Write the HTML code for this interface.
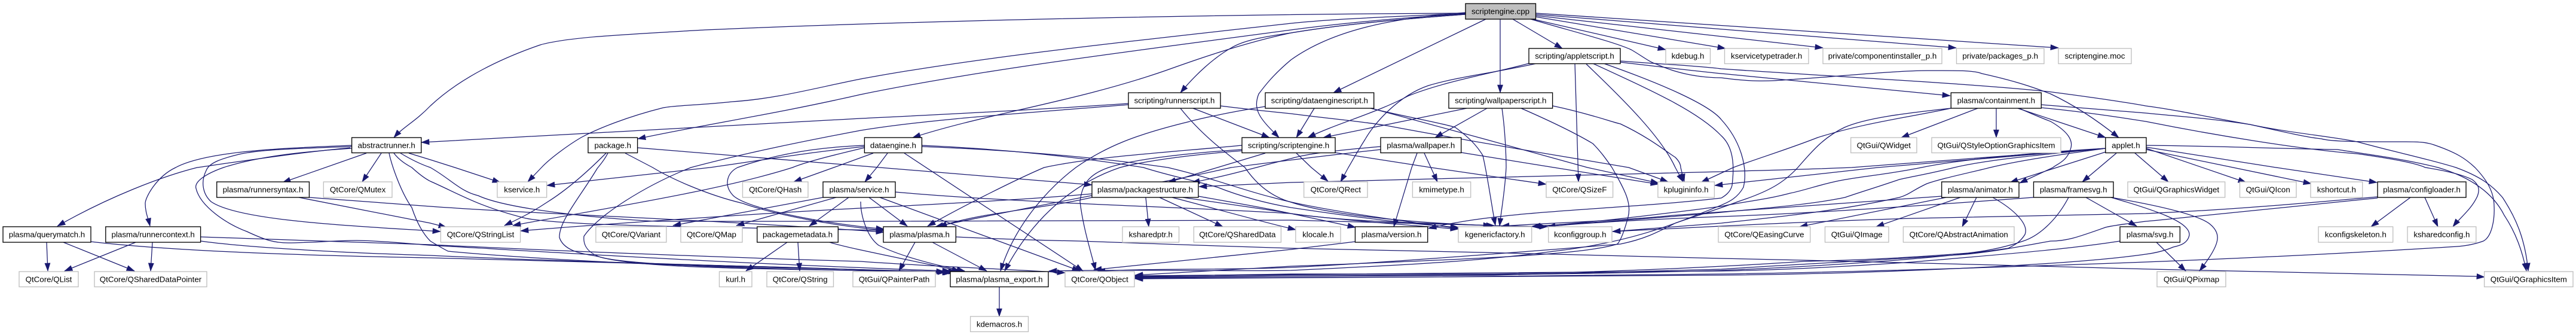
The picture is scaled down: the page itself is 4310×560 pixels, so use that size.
<!DOCTYPE html>
<html>
<head>
<meta charset="utf-8">
<title>scriptengine.cpp</title>
<style>
html,body{margin:0;padding:0;background:#fff}
svg{display:block}
text{font-family:"Liberation Sans",sans-serif;font-size:13.33px;fill:#000;text-anchor:middle}
.b{fill:#fff;stroke:#000;stroke-width:1.33}
.g{fill:#fff;stroke:#bfbfbf;stroke-width:1.33}
</style>
</head>
<body>
<svg xmlns="http://www.w3.org/2000/svg" width="4310" height="560" viewBox="0 0 4310 560">
<defs>
<marker id="a" markerUnits="userSpaceOnUse" markerWidth="14" markerHeight="10" viewBox="0 0 14 10" refX="13.5" refY="5" orient="auto">
<path d="M0.5 0.5L13.5 5L0.5 9.5Z" fill="#191970" stroke="#191970" stroke-width="0.6"/>
</marker>
</defs>
<rect width="4310" height="560" fill="#fff"/>
<g fill="none" stroke="#191970" stroke-width="1.25" marker-end="url(#a)">
<!-- scriptengine.cpp -->
<path d="M2452 22C2000 24 1500 36 1179 50C1040 58 950 62 904 75C840 97 770 130 720 177C695 203 675 212 659 230"/>
<path d="M2452 22C2340 28 2250 30 2160 39C1900 68 1640 95 1440 132C1360 148 1300 165 1225 170C1170 176 1130 176 1110 180C1050 195 1000 215 972 230C950 243 920 265 906 280L883 304"/>
<path d="M2452 23C2340 30 2250 38 2160 50C1900 85 1650 115 1440 158C1300 190 1180 208 1067 232"/>
<path d="M2452 24C2300 35 2220 45 2160 55C2080 72 2000 100 1950 118C1800 170 1650 190 1527 230"/>
<path d="M2452 24C2300 35 2220 45 2160 55C2110 62 2080 68 2060 80C2030 97 2000 125 1975 155"/>
<path d="M2452 21C2330 30 2230 50 2160 100C2130 125 2115 145 2106 157C2095 185 2110 200 2140 230"/>
<path d="M2486 32L2231 155"/>
<path d="M2510 32L2510 155"/>
<path d="M2531 32L2614 81"/>
<path d="M2560 31L2787 83"/>
<path d="M2569 28L2887 81"/>
<path d="M2569 26L3050 80"/>
<path d="M2569 24L3273 80"/>
<path d="M2569 22L3444 80"/>
<path d="M2561 32C2640 55 2700 70 2729 83C2745 92 2760 104 2771 107C2810 125 2850 130 2880 130C2930 137 2960 136 2995 133C3050 130 3170 118 3224 118C3270 118 3300 117 3316 123C3370 135 3400 145 3431 157C3480 180 3520 210 3545 230"/>
<!-- appletscript -->
<path d="M2711 104C2780 112 2830 118 2880 123L3263 160"/>
<path d="M2711 102C2790 108 2840 110 2880 115C3100 130 3300 140 3426 153C3480 160 3540 168 3590 177C3650 185 3700 197 3764 208C3830 222 3900 228 3944 237C4010 255 4060 265 4109 280C4150 295 4170 310 4187 330C4210 365 4225 400 4230 453"/>
<path d="M2558 106C2500 122 2420 135 2357 160C2300 190 2240 205 2188 230"/>
<path d="M2571 106C2500 122 2440 128 2390 143C2340 160 2300 205 2284 233C2270 255 2262 270 2256 280L2243 304"/>
<path d="M2635 106L2641 304"/>
<path d="M2654 107C2720 170 2780 230 2803 280L2816 304"/>
<path d="M2665 106C2760 150 2840 185 2880 227C2905 250 2900 290 2898 310C2895 322 2885 328 2880 331C2760 345 2620 350 2527 360C2470 366 2430 372 2390 382"/>
<path d="M2683 106C2780 140 2860 175 2880 200C2912 235 2925 280 2917 313C2905 335 2885 340 2880 343C2800 375 2730 405 2600 420C2450 440 2300 445 2160 452C2050 454 1900 450 1755 453"/>
<!-- containment -->
<path d="M3309 181L3181 230"/>
<path d="M3340 181L3340 230"/>
<path d="M3376 181L3523 230"/>
<path d="M3376 180C3410 195 3431 203 3431 203C3460 220 3470 235 3464 250C3458 270 3440 275 3435 280L3379 306"/>
<path d="M3264 181C3200 195 3120 205 3041 230C2990 250 2940 265 2900 280L2846 305"/>
<path d="M3264 181C3180 190 3120 198 3086 213C3050 230 3030 255 3008 280C2985 305 2960 320 2908 337C2860 355 2840 360 2803 373C2770 390 2750 400 2711 408C2500 425 2300 440 2160 447C2050 452 1900 448 1836 454"/>
<path d="M3415 175C3480 180 3540 185 3590 189C3650 195 3700 198 3764 208C3810 218 3860 230 3884 232C3900 237 3950 237 4026 237C4050 237 4060 238 4072 242C4110 255 4125 265 4141 280C4160 300 4173 320 4173 345C4174 365 4170 395 4155 403C4130 412 4110 412 4095 413C3900 425 3750 432 3590 438C3400 445 3100 455 2880 458C2650 462 2400 463 2160 464L1899 465"/>
<path d="M3415 180C3480 186 3540 195 3590 203C3700 225 3850 250 3944 257C4000 265 4040 272 4058 280C4090 285 4120 292 4136 300C4150 310 4148 320 4145 328C4135 350 4115 365 4104 379"/>
<!-- applet -->
<path d="M3571 255L3628 304"/>
<path d="M3591 248L3758 305"/>
<path d="M3591 250L3867 307"/>
<path d="M3591 246L3808 280L3977 305"/>
<path d="M3591 243C3700 244 3800 248 3911 250C3960 258 4020 265 4079 280C4130 295 4170 320 4190 360C4210 390 4220 420 4227 453"/>
<path d="M3541 256L3484 304"/>
<path d="M3523 254L3363 305"/>
<path d="M3523 248L3098 280C3000 284 2900 286 2880 287L2160 305L2006 312"/>
<path d="M3523 248L3142 280L2869 310"/>
<path d="M3523 248C3400 255 3270 268 3215 280C3150 293 3110 295 3073 303C3040 310 3020 318 2995 323C2950 335 2910 338 2880 345C2800 355 2690 370 2564 379"/>
<path d="M3523 248C3400 260 3320 268 3270 280C3230 290 3200 295 3178 300C3140 313 3110 322 3087 330C3030 342 2950 348 2880 355C2800 362 2680 372 2564 378"/>
<path d="M3523 248C3450 258 3380 268 3330 280C3290 290 3250 298 3224 307C3200 318 3195 325 3178 330C3080 352 2980 362 2880 373L2698 387"/>
<!-- configloader -->
<path d="M4033 330L3967 379"/>
<path d="M4057 330L4079 379"/>
<path d="M3978 329C3800 345 3700 352 3590 357L3201 365C3100 368 3000 372 2880 378L2698 387"/>
<path d="M3978 331C3850 345 3720 358 3590 370C3550 375 3530 378 3523 380C3480 395 3460 403 3431 403C3380 412 3340 420 3290 425C3150 435 3000 442 2880 450L2500 460L2160 462L1899 464"/>
<!-- animator -->
<path d="M3280 330L3139 379"/>
<path d="M3307 330L3283 379"/>
<path d="M3256 330L3011 379"/>
<path d="M3334 330C3370 350 3395 375 3388 392C3380 405 3370 410 3360 415C3250 432 3050 445 2880 452C2600 460 2400 460 2160 460L1899 463"/>
<path d="M3249 328C3100 340 2950 350 2800 360C2700 370 2600 372 2512 378"/>
<!-- framesvg -->
<path d="M3490 330L3575 378"/>
<path d="M3461 330C3440 370 3410 395 3385 403C3350 415 3320 420 3293 423C3180 432 3100 435 3018 437C2900 445 2700 455 2500 458L2160 458L1899 462"/>
<path d="M3532 330C3600 350 3665 370 3663 393C3660 408 3645 411 3636 413C3620 420 3605 423 3590 425C3450 445 3100 458 2880 460C2500 465 2160 466 1899 466"/>
<path d="M3532 330C3620 345 3680 360 3698 375C3710 385 3712 395 3709 405C3705 420 3690 440 3680 453"/>
<path d="M3402 330C3200 345 3000 358 2880 362C2800 365 2650 372 2589 379"/>
<!-- svg -->
<path d="M3608 405L3657 453"/>
<path d="M3547 403C3450 418 3350 425 3200 438C3000 452 2880 453 2880 453C2500 458 2160 458 1899 461"/>
<!-- plasma.h -->
<path d="M1599 396C1680 400 1750 402 1807 403C1900 406 2050 412 2160 415L2481 422L2880 432C2930 433 2980 434 3018 435L3339 443L3600 450L4143 462L4157 463"/>
<path d="M1531 405L1504 453"/>
<path d="M1560 405L1651 453"/>
<!-- packagemetadata -->
<path d="M1317 405L1248 453"/>
<path d="M1335 405L1338 453"/>
<path d="M1388 405C1420 415 1500 430 1606 453"/>
<!-- plasma_export -->
<path d="M1672 479L1672 529"/>
<!-- packagestructure -->
<path d="M1917 330L1922 379"/>
<path d="M1940 330L2046 379"/>
<path d="M1961 330C2020 345 2100 368 2168 384"/>
<path d="M1979 330C2080 345 2120 350 2160 357C2240 368 2380 378 2440 383"/>
<path d="M2005 328C2060 338 2120 348 2160 357L2268 380"/>
<path d="M1827 324C1700 335 1550 342 1440 348C1300 355 1000 375 871 386"/>
<path d="M1827 330C1740 350 1640 355 1571 379"/>
<!-- abstractrunner -->
<path d="M586 247C500 255 400 270 330 280C270 295 180 330 96 378"/>
<path d="M588 243C500 247 350 250 294 280C262 295 243 330 243 340C243 355 248 365 251 378"/>
<path d="M588 245C500 248 440 250 404 257C370 265 350 272 345 285C335 305 340 325 353 337C400 370 600 378 737 387"/>
<path d="M588 248C500 254 430 262 374 280C340 292 325 305 328 315C335 345 380 375 413 387C445 402 460 406 482 406C520 406 560 402 597 402C650 403 690 408 720 410C900 420 1200 440 1590 453"/>
<path d="M613 256L473 305"/>
<path d="M638 256L606 304"/>
<path d="M651 256C655 275 670 320 689 347C700 380 712 395 720 403C735 412 745 418 750 420C800 425 1000 440 1200 445L1580 454"/>
<path d="M659 256C668 268 680 275 689 280C700 290 710 298 720 303C770 325 800 345 880 365C950 378 1200 380 1479 385"/>
<path d="M670 256C690 268 705 275 720 280C755 300 770 320 800 327C850 350 1000 365 1100 370L1440 370L2160 368L2500 377"/>
<path d="M684 256L720 267L761 280L837 305"/>
<!-- runnerscript -->
<path d="M1888 173C1700 186 1500 195 1440 198L705 238"/>
<path d="M1888 175C1700 190 1550 200 1440 218C1350 235 1250 255 1156 280C1080 310 1000 360 977 395C975 415 990 425 1005 430C1080 450 1300 450 1600 454"/>
<path d="M1996 181L2124 230"/>
<path d="M1975 181C2010 225 2050 255 2083 280C2100 305 2125 328 2160 338C2220 358 2350 372 2490 377L2589 379"/>
<path d="M2042 177C2090 183 2130 187 2160 190C2220 198 2280 203 2320 210C2480 240 2620 262 2725 280L2791 304"/>
<!-- dataengine -->
<path d="M1446 243C1400 245 1320 250 1234 280C1215 290 1212 310 1225 325C1240 345 1350 370 1479 383"/>
<path d="M1446 245C1350 255 1260 270 1188 280L915 310"/>
<path d="M1446 247C1400 258 1350 270 1326 280C1200 320 1000 350 858 377"/>
<path d="M1461 256L1395 280L1328 304"/>
<path d="M1485 256L1467 280L1447 304"/>
<path d="M1513 256L1812 453"/>
<path d="M1542 243C1700 250 1820 265 1913 280C1960 295 2000 302 2037 313C2080 330 2120 340 2160 347C2260 362 2360 375 2440 380"/>
<path d="M1542 245C1720 252 1850 265 1954 280C2030 298 2080 318 2129 330C2200 350 2350 370 2440 382"/>
<!-- package -->
<path d="M1067 247L1827 309"/>
<path d="M1014 256C1000 270 960 310 917 337C890 355 870 365 844 377"/>
<path d="M1017 256C1010 270 1000 280 999 282C970 330 935 370 936 397C945 425 990 425 1005 430C1060 445 1300 450 1582 455"/>
<path d="M1046 256L1092 280C1120 297 1180 325 1243 340C1300 360 1400 378 1479 385"/>
<!-- service -->
<path d="M1377 330L1126 377"/>
<path d="M1399 330L1232 377"/>
<path d="M1420 330L1354 378"/>
<path d="M1454 330L1518 378"/>
<path d="M1472 330L1807 453"/>
<path d="M1440 337C1440 360 1450 395 1470 410C1500 425 1550 440 1614 453"/>
<path d="M1498 321C1600 330 1700 335 1761 338C1900 345 2050 350 2160 357C2250 370 2350 372 2495 377"/>
<!-- dataenginescript -->
<path d="M2117 178C2040 190 1990 203 1991 203C1900 225 1850 245 1800 280C1760 310 1700 370 1674 453"/>
<path d="M2199 181L2169 230"/>
<path d="M2293 181C2350 195 2410 205 2435 213C2465 235 2475 250 2481 260C2490 300 2495 340 2502 377"/>
<path d="M2298 182C2400 210 2550 250 2656 280L2775 306"/>
<!-- scriptengine.h -->
<path d="M2078 243C1950 255 1830 262 1747 280C1700 300 1610 345 1552 378"/>
<path d="M2078 250C2000 255 1900 265 1855 280C1820 292 1810 310 1807 337C1812 380 1825 420 1833 452"/>
<path d="M2078 252C2000 258 1920 268 1874 280C1800 305 1730 360 1681 453"/>
<path d="M2117 256L2037 280L1954 305"/>
<path d="M2169 256L2194 280L2222 303"/>
<path d="M2233 255L2394 280L2587 308"/>
<!-- wallpaperscript -->
<path d="M2454 181L2214 230"/>
<path d="M2488 181L2401 230"/>
<path d="M2513 181C2520 230 2520 280 2520 280C2518 320 2512 350 2509 378"/>
<path d="M2545 181C2600 205 2640 225 2665 240C2680 255 2690 270 2697 280C2720 320 2730 340 2724 363C2718 385 2712 402 2706 408C2650 425 2500 432 2160 445L1899 460"/>
<path d="M2598 177C2660 190 2700 205 2711 207C2760 230 2790 255 2803 263C2810 270 2812 275 2812 280L2818 304"/>
<!-- wallpaper -->
<path d="M2383 256L2394 280L2405 304"/>
<path d="M2371 256L2362 280L2332 379"/>
<path d="M2445 255L2600 280L2775 308"/>
<path d="M2310 245C2250 250 2190 256 2160 265C2100 280 2050 295 1994 305"/>
<path d="M2310 250C2200 262 2100 275 2060 280C1950 305 1750 340 1565 379"/>
<!-- runnersyntax -->
<path d="M500 330L720 373L747 380"/>
<path d="M517 330L720 345C900 358 1150 365 1479 388"/>
<!-- querymatch -->
<path d="M78 405L80 453"/>
<path d="M106 405L225 453"/>
<path d="M152 404C250 415 400 425 720 431C1000 438 1300 445 1592 456"/>
<!-- runnercontext -->
<path d="M227 405L108 453"/>
<path d="M255 405L252 453"/>
<path d="M336 396C450 400 600 405 720 409C900 418 1200 430 1440 437C1550 445 1690 450 1782 456"/>
<path d="M336 403C400 412 550 422 720 427C1000 440 1300 445 1590 456"/>
<!-- version -->
<path d="M2267 404C2200 412 2160 417 2160 417L1830 451"/>
</g>
<g>
<rect class="b" style="fill:#bfbfbf" x="2452" y="6" width="117.5" height="26"/><text x="2510.5" y="23.5">scriptengine.cpp</text>

<rect class="b" x="2558" y="81" width="153" height="25.5"/><text x="2634.5" y="98">scripting/appletscript.h</text>
<rect class="g" x="2787" y="81" width="74.5" height="25.5"/><text x="2824" y="98">kdebug.h</text>
<rect class="g" x="2885.5" y="81" width="140.5" height="25.5"/><text x="2955.7" y="98">kservicetypetrader.h</text>
<rect class="g" x="3050" y="81" width="199" height="25.5"/><text x="3149.5" y="98">private/componentinstaller_p.h</text>
<rect class="g" x="3273.5" y="81" width="146.5" height="25.5"/><text x="3346.7" y="98">private/packages_p.h</text>
<rect class="g" x="3444" y="81" width="122" height="25.5"/><text x="3505" y="98">scriptengine.moc</text>

<rect class="b" x="1888" y="155" width="154" height="26"/><text x="1965" y="172.5">scripting/runnerscript.h</text>
<rect class="b" x="2117" y="155" width="181.7" height="26"/><text x="2207.8" y="172.5">scripting/dataenginescript.h</text>
<rect class="b" x="2424" y="155" width="173.6" height="26"/><text x="2510.8" y="172.5">scripting/wallpaperscript.h</text>
<rect class="b" x="3264.3" y="155" width="151" height="26"/><text x="3339.8" y="172.5">plasma/containment.h</text>

<rect class="b" x="588.6" y="230" width="116.2" height="25.5"/><text x="646.7" y="247.5">abstractrunner.h</text>
<rect class="b" x="984" y="230" width="82.6" height="25.5"/><text x="1025.3" y="247.5">package.h</text>
<rect class="b" x="1446.4" y="230" width="96" height="25.5"/><text x="1494.4" y="247.5">dataengine.h</text>
<rect class="b" x="2078" y="230" width="156" height="25.5"/><text x="2156" y="247.5">scripting/scriptengine.h</text>
<rect class="b" x="2310" y="230" width="134.7" height="25.5"/><text x="2377.3" y="247.5">plasma/wallpaper.h</text>
<rect class="g" x="3096.7" y="230" width="110.3" height="25.5"/><text x="3151.8" y="247.5">QtGui/QWidget</text>
<rect class="g" x="3232" y="230" width="216" height="25.5"/><text x="3340" y="247.5">QtGui/QStyleOptionGraphicsItem</text>
<rect class="b" x="3522.8" y="230" width="68.2" height="25.5"/><text x="3556.9" y="247.5">applet.h</text>

<rect class="b" x="362.7" y="304" width="154.7" height="26"/><text x="440" y="321.5">plasma/runnersyntax.h</text>
<rect class="g" x="541.3" y="304" width="114.7" height="26"/><text x="598.6" y="321.5">QtCore/QMutex</text>
<rect class="g" x="832" y="304" width="82.7" height="26"/><text x="873.3" y="321.5">kservice.h</text>
<rect class="g" x="1242.5" y="304" width="109.5" height="26"/><text x="1297.2" y="321.5">QtCore/QHash</text>
<rect class="b" x="1377" y="304" width="121" height="26"/><text x="1437.5" y="321.5">plasma/service.h</text>
<rect class="b" x="1827" y="304" width="178" height="26"/><text x="1916" y="321.5">plasma/packagestructure.h</text>
<rect class="g" x="2181.6" y="304" width="106.4" height="26"/><text x="2234.8" y="321.5">QtCore/QRect</text>
<rect class="g" x="2363.4" y="304" width="97.3" height="26"/><text x="2412" y="321.5">kmimetype.h</text>
<rect class="g" x="2587" y="304" width="111.6" height="26"/><text x="2642.8" y="321.5">QtCore/QSizeF</text>
<rect class="g" x="2773.9" y="304" width="94.5" height="26"/><text x="2821.1" y="321.5">kplugininfo.h</text>
<rect class="b" x="3248.7" y="304" width="129.3" height="26"/><text x="3313.3" y="321.5">plasma/animator.h</text>
<rect class="b" x="3402.5" y="304" width="133.5" height="26"/><text x="3469.2" y="321.5">plasma/framesvg.h</text>
<rect class="g" x="3560" y="304" width="162.7" height="26"/><text x="3641.3" y="321.5">QtGui/QGraphicsWidget</text>
<rect class="g" x="3747.5" y="304" width="94.5" height="26"/><text x="3794.7" y="321.5">QtGui/QIcon</text>
<rect class="g" x="3866" y="304" width="86.7" height="26"/><text x="3909.3" y="321.5">kshortcut.h</text>
<rect class="b" x="3978" y="304" width="148" height="26"/><text x="4052" y="321.5">plasma/configloader.h</text>

<rect class="b" x="5" y="379" width="147" height="26"/><text x="78.5" y="396.5">plasma/querymatch.h</text>
<rect class="b" x="176.8" y="379" width="158.8" height="26"/><text x="256.2" y="396.5">plasma/runnercontext.h</text>
<rect class="g" x="737.4" y="379" width="133.2" height="26"/><text x="804" y="396.5">QtCore/QStringList</text>
<rect class="g" x="996.9" y="379" width="118" height="26"/><text x="1055.9" y="396.5">QtCore/QVariant</text>
<rect class="g" x="1139" y="379" width="103" height="26"/><text x="1190.5" y="396.5">QtCore/QMap</text>
<rect class="b" x="1266.8" y="379" width="135.5" height="26"/><text x="1334.5" y="396.5">packagemetadata.h</text>
<rect class="b" x="1478" y="379" width="121.3" height="26"/><text x="1538.6" y="396.5">plasma/plasma.h</text>
<rect class="g" x="1878" y="379" width="94.6" height="26"/><text x="1925.3" y="396.5">ksharedptr.h</text>
<rect class="g" x="1997.4" y="379" width="146" height="26"/><text x="2070.4" y="396.5">QtCore/QSharedData</text>
<rect class="g" x="2167.8" y="379" width="75.2" height="26"/><text x="2205.4" y="396.5">klocale.h</text>
<rect class="b" x="2267.4" y="379" width="121.3" height="26"/><text x="2328" y="396.5">plasma/version.h</text>
<rect class="g" x="2440" y="379" width="122.7" height="26"/><text x="2501.3" y="396.5">kgenericfactory.h</text>
<rect class="g" x="2590.7" y="379" width="106.3" height="26"/><text x="2643.8" y="396.5">kconfiggroup.h</text>
<rect class="g" x="2875" y="379" width="153.8" height="26"/><text x="2951.9" y="396.5">QtCore/QEasingCurve</text>
<rect class="g" x="3053.5" y="379" width="106.5" height="26"/><text x="3106.7" y="396.5">QtGui/QImage</text>
<rect class="g" x="3184.4" y="379" width="185.6" height="26"/><text x="3277.2" y="396.5">QtCore/QAbstractAnimation</text>
<rect class="b" x="3547" y="379" width="100.4" height="26"/><text x="3597.2" y="396.5">plasma/svg.h</text>
<rect class="g" x="3879" y="379" width="124.7" height="26"/><text x="3941.3" y="396.5">kconfigskeleton.h</text>
<rect class="g" x="4028" y="379" width="114.8" height="26"/><text x="4085.4" y="396.5">ksharedconfig.h</text>

<rect class="g" x="32" y="454" width="99" height="25.5"/><text x="81.5" y="471.5">QtCore/QList</text>
<rect class="g" x="158" y="454" width="188" height="25.5"/><text x="252" y="471.5">QtCore/QSharedDataPointer</text>
<rect class="g" x="1203.5" y="454" width="54.5" height="25.5"/><text x="1230.7" y="471.5">kurl.h</text>
<rect class="g" x="1283" y="454" width="111.5" height="25.5"/><text x="1338.7" y="471.5">QtCore/QString</text>
<rect class="g" x="1427" y="454" width="138" height="25.5"/><text x="1496" y="471.5">QtGui/QPainterPath</text>
<rect class="b" x="1590" y="454" width="164" height="25.5"/><text x="1672" y="471.5">plasma/plasma_export.h</text>
<rect class="g" x="1782" y="454" width="116" height="25.5"/><text x="1840" y="471.5">QtCore/QObject</text>
<rect class="g" x="3609" y="454" width="115" height="25.5"/><text x="3666.5" y="471.5">QtGui/QPixmap</text>
<rect class="g" x="4156.6" y="454" width="148.4" height="25.5"/><text x="4230.8" y="471.5">QtGui/QGraphicsItem</text>

<rect class="g" x="1623.6" y="529" width="96.9" height="25.5"/><text x="1672" y="546.5">kdemacros.h</text>
</g>
</svg>
</body>
</html>
